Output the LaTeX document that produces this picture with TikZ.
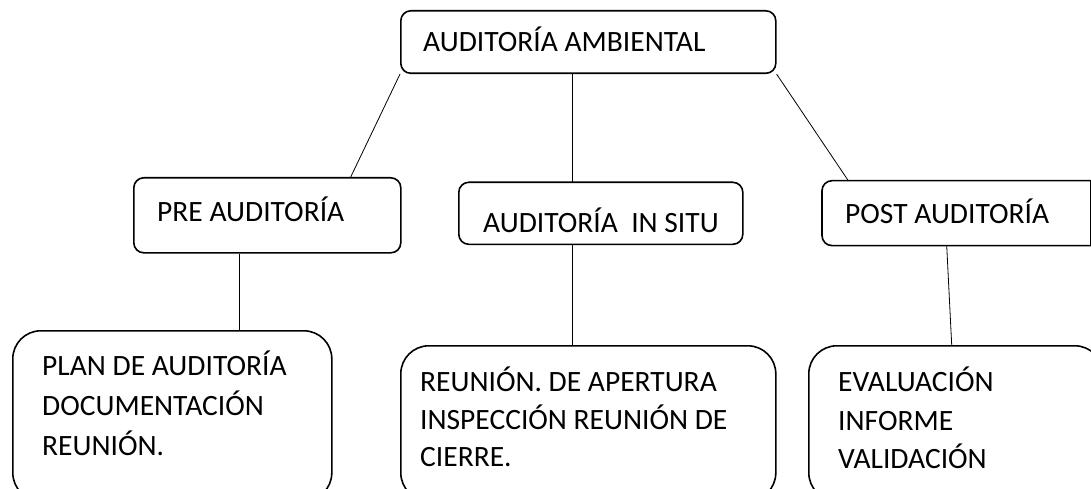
\documentclass[tikz,border=0pt]{standalone}
\usepackage{fontspec}
\setmainfont{Carlito}
\usetikzlibrary{calc}
\newcommand{\boxlines}[2]{\parbox[t]{400pt}{\fontsize{29.5}{#1}\selectfont #2}}
\begin{document}
\begin{tikzpicture}[x=1pt,y=-1pt,
  box/.style={draw, line width=1.6pt, rounded corners=10pt, inner sep=0pt, anchor=north west},
  bigbox/.style={box, rounded corners=28pt},
  lbl/.style={anchor=base west, inner sep=0pt, font=\fontsize{29.5}{35}\selectfont},
  link/.style={line width=0.8pt}]
\useasboundingbox (0,0) rectangle (1091,489);
\clip (0,0) rectangle (1091,489);
\fill[white] (0,0) rectangle (1091,489);

% top
\node[box, minimum width=375, minimum height=62.5] (top) at (400,10) {};
\node[lbl] (toplbl) at (423,51.7) {AUDITORÍA AMBIENTAL};

% middle row
\node[box, minimum width=267, minimum height=75] (pre) at (133,177) {};
\node[lbl] (prelbl) at (157,221.7) {PRE AUDITORÍA};

\node[box, minimum width=284, minimum height=62] (insitu) at (458,181.5) {};
\node[lbl] (insitulbl) at (483,232.5) {AUDITORÍA\ \ IN SITU};

\node[box, draw=none, minimum width=267, minimum height=63.3] (post) at (822,180.7) {};
\draw[line width=1.6pt, rounded corners=10pt, line cap=rect] (post.north east) -- (post.north west) -- (post.south west) -- (post.south east);
\draw[line width=1.6pt, line cap=rect] (post.north east) -- (post.south east);
\node[lbl] (postlbl) at (845,223) {POST AUDITORÍA};

% bottom row
\node[bigbox, minimum width=319, minimum height=170] (lbox) at (12,330) {};
\node[lbl] (lboxlbl) at (42,375.5) {\boxlines{40}{PLAN DE AUDITORÍA\\DOCUMENTACIÓN\\REUNIÓN.}};

\node[bigbox, minimum width=375, minimum height=155] (mbox) at (400,345) {};
\node[lbl] (mboxlbl) at (420,391.7) {\boxlines{37.5}{REUNIÓN. DE APERTURA\\INSPECCIÓN REUNIÓN DE\\CIERRE.}};

\node[bigbox, minimum width=294, minimum height=155] (rbox) at (808,345) {};
\node[lbl] (rboxlbl) at (838,391.7) {\boxlines{38.3}{EVALUACIÓN\\INFORME\\VALIDACIÓN}};

% connectors
\draw[link] (top.south west) -- ($(pre.north west)+(217.7,0)$);
\draw[link] ($(top.south west)+(172,0)$) -- ($(insitu.north west)+(114,0)$);
\draw[link] (top.south east) -- ($(post.north west)+(26.3,0)$);
\draw[link] ($(pre.south west)+(106.5,0)$) -- ($(lbox.north west)+(227.5,0)$);
\draw[link] ($(insitu.south west)+(114,0)$) -- ($(mbox.north west)+(172,0)$);
\draw[link] ($(post.south west)+(124.7,0)$) -- ($(rbox.north west)+(143.7,0)$);
\end{tikzpicture}
\end{document}
